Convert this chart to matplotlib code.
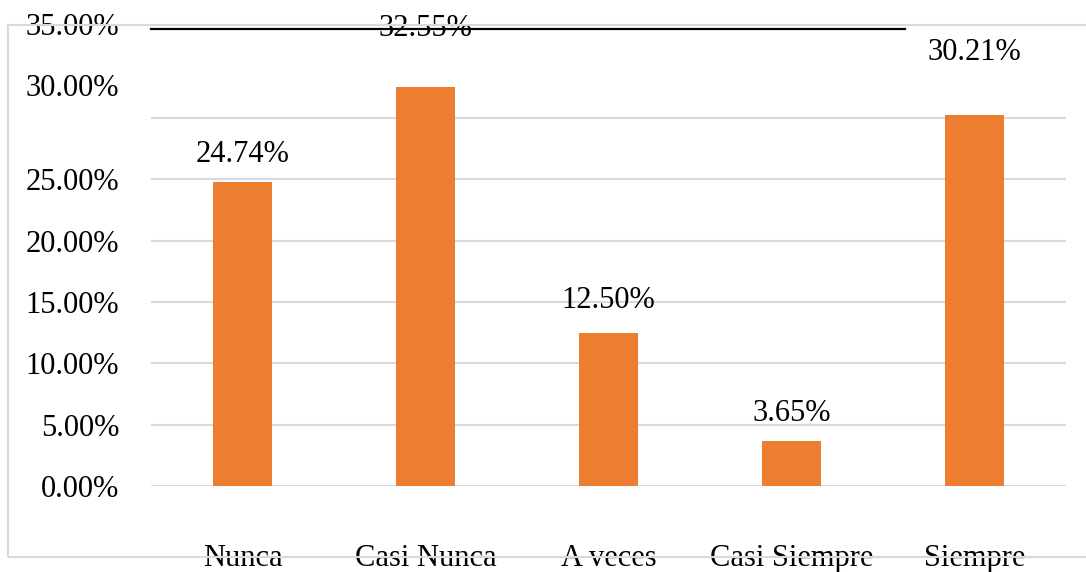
import matplotlib
matplotlib.use("Agg")
import matplotlib.pyplot as plt
from matplotlib.transforms import ScaledTranslation
from matplotlib.patches import Rectangle

# Survey response shares (%)
categories = ["Nunca", "Casi Nunca", "A veces", "Casi Siempre", "Siempre"]
shares = [24.74, 32.55, 12.50, 3.65, 30.21]
y_tick_values = [0, 5, 10, 15, 20, 25, 30, 35]
y_tick_labels = ["0.00%", "5.00%", "10.00%", "15.00%", "20.00%", "25.00%", "30.00%", "35.00%"]
bar_labels = ["24.74%", "32.55%", "12.50%", "3.65%", "30.21%"]

# label placement above each bar, in points
label_offsets = [20, 42, 23, 20, 45]

ORANGE = "#ED7D31"
GRID = "#D9D9D9"
plt.rcParams["font.family"] = ["Liberation Serif", "DejaVu Serif"]

W, H = 1086, 572
fig = plt.figure(figsize=(W / 100, H / 100), dpi=100)
ax = fig.add_axes([151 / W, 86 / H, 915 / W, 466.3 / H])

x = range(len(categories))
ax.bar(x, shares, width=0.317, color=ORANGE, zorder=3)
ax.set_xlim(-0.5, len(categories) - 0.5)
ax.set_ylim(0, 38)

for xi, v, lab, off in zip(x, shares, bar_labels, label_offsets):
    ax.annotate(lab, (xi, v), xytext=(0, off), textcoords="offset points",
                ha="center", va="center", fontsize=22, color="black", zorder=4)

ax.set_yticks(y_tick_values)
ax.set_yticklabels(y_tick_labels, fontsize=22)
ax.set_xticks(list(x))
ax.set_xticklabels(categories, fontsize=22)
ax.tick_params(axis="y", length=0, pad=23)
ax.tick_params(axis="x", length=0, pad=42)

# horizontal gridlines except the top tick
for val in y_tick_values[:-1]:
    ax.axhline(val, color=GRID, lw=1.5, zorder=1)

# the two upper tick labels sit higher than their ticks
shift = ScaledTranslation(0, 33 / 100, fig.dpi_scale_trans)
for lbl in ax.get_yticklabels()[-2:]:
    lbl.set_transform(lbl.get_transform() + shift)

# black rule across the top
ax.axhline(37.25, xmin=0, xmax=(905 - 151) / 915, color="black", lw=1.6, zorder=5, clip_on=False)

for s in ax.spines.values():
    s.set_visible(False)

# chart frame
fig.patches.append(Rectangle((8 / W, (H - 557) / H), (W + 20) / W, (557 - 25) / H,
                             transform=fig.transFigure, fill=False,
                             edgecolor=GRID, lw=1.5, zorder=0))

fig.savefig("out.png", dpi=100, facecolor="white")
